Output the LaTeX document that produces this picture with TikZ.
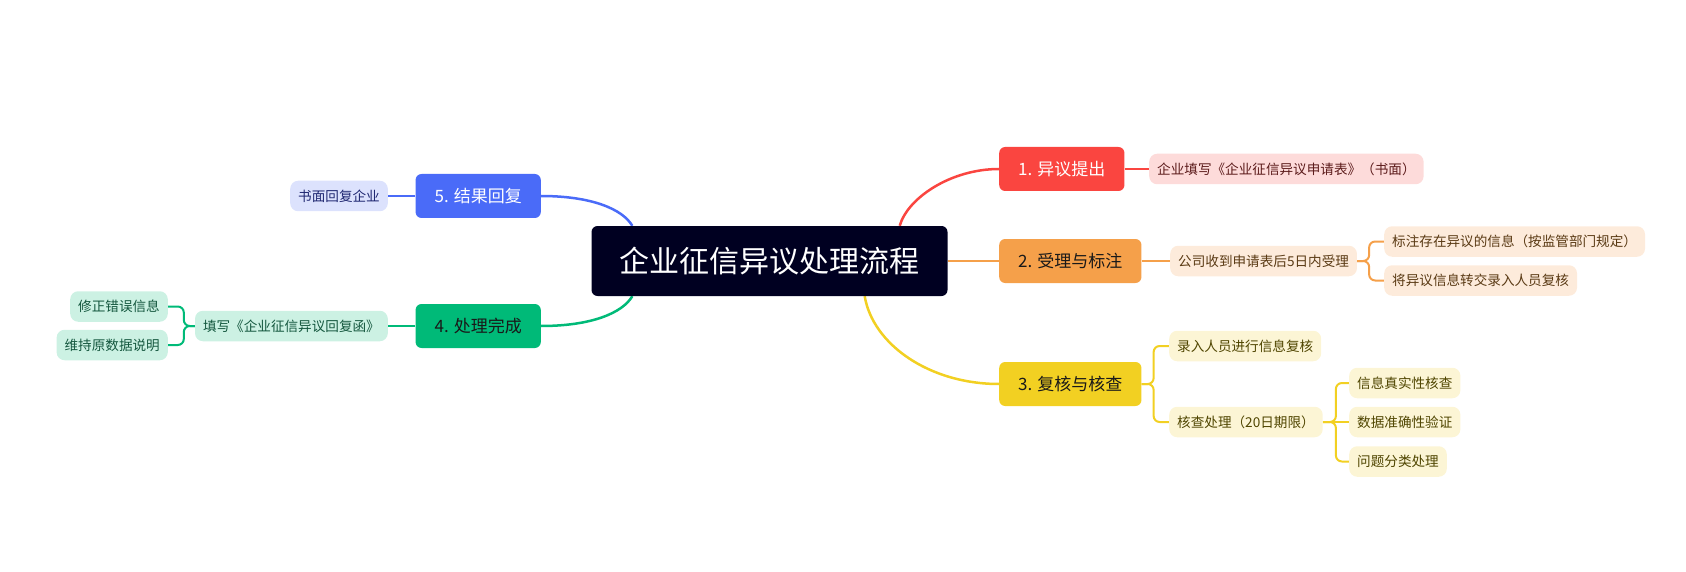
\documentclass[tikz,border=0pt]{standalone}
\usepackage{fontspec}
\setmainfont{Noto Sans CJK SC}
\usetikzlibrary{backgrounds}
\definecolor{rootc}{HTML}{000021}
\definecolor{redA}{HTML}{FA4540}\definecolor{redB}{HTML}{FDDBDA}\definecolor{redT}{HTML}{5C1B1B}
\definecolor{orgA}{HTML}{F5A04A}\definecolor{orgB}{HTML}{FDEBDB}\definecolor{orgT}{HTML}{5A3A14}
\definecolor{yelA}{HTML}{F2D022}\definecolor{yelB}{HTML}{FCF5D5}\definecolor{yelT}{HTML}{4F4500}
\definecolor{grnA}{HTML}{00BA78}\definecolor{grnB}{HTML}{CCF1E3}\definecolor{grnT}{HTML}{14573E}
\definecolor{bluA}{HTML}{4A6BF8}\definecolor{bluB}{HTML}{DCE2FD}\definecolor{bluT}{HTML}{1E2670}
\tikzset{
  rootbox/.style={fill=rootc, text=white, rounded corners=6pt, minimum height=70pt, inner xsep=28pt, font=\fontsize{30}{36}\selectfont},
  stagebox/.style={rounded corners=6pt, minimum height=44pt, inner xsep=19pt, font=\fontsize{17}{20}\selectfont},
  leafbox/.style={rounded corners=8pt, minimum height=30.5pt, inner xsep=8pt, inner ysep=2pt, font=\fontsize{13.6}{16}\selectfont},
  branch/.style={line width=2.5pt},
  twig/.style={line width=2pt, rounded corners=6pt}
}
\begin{document}
\begin{tikzpicture}[x=1pt, y=-1pt]
    \useasboundingbox (0,0) rectangle (1686,572);
    \node[rootbox] (root) at (769.5,261) {企业征信异议处理流程};

    % right side
    \node[stagebox, fill=redA, text=white, anchor=west] (s1) at (999,169) {1. 异议提出};
    \node[stagebox, fill=orgA, text=black!90, anchor=west] (s2) at (999,261) {2. 受理与标注};
    \node[stagebox, fill=yelA, text=black!90, anchor=west] (s3) at (999,384) {3. 复核与核查};

    \node[leafbox, fill=redB, text=redT, anchor=west] (s1a) at (1149,169) {企业填写《企业征信异议申请表》（书面）};
    \node[leafbox, fill=orgB, text=orgT, anchor=west] (s2a) at (1170,261) {公司收到申请表后5日内受理};
    \node[leafbox, fill=orgB, text=orgT, anchor=west] (s2a1) at (1384,241.5) {标注存在异议的信息（按监管部门规定）};
    \node[leafbox, fill=orgB, text=orgT, anchor=west] (s2a2) at (1384,280.5) {将异议信息转交录入人员复核};
    \node[leafbox, fill=yelB, text=yelT, anchor=west] (s3a) at (1169,346) {录入人员进行信息复核};
    \node[leafbox, fill=yelB, text=yelT, anchor=west] (s3b) at (1169,422) {核查处理（20日期限）};
    \node[leafbox, fill=yelB, text=yelT, anchor=west] (s3b1) at (1349,383) {信息真实性核查};
    \node[leafbox, fill=yelB, text=yelT, anchor=west] (s3b2) at (1349,422) {数据准确性验证};
    \node[leafbox, fill=yelB, text=yelT, anchor=west] (s3b3) at (1349,461.5) {问题分类处理};

    % left side
    \node[stagebox, fill=bluA, text=white, anchor=east] (s5) at (541,196) {5. 结果回复};
    \node[stagebox, fill=grnA, text=black!90, anchor=east] (s4) at (541,326) {4. 处理完成};

    \node[leafbox, fill=bluB, text=bluT, anchor=east] (s5a) at (388,196) {书面回复企业};
    \node[leafbox, fill=grnB, text=grnT, anchor=east] (s4a) at (388,326) {填写《企业征信异议回复函》};
    \node[leafbox, fill=grnB, text=grnT, anchor=east] (s4a1) at (168,306.5) {修正错误信息};
    \node[leafbox, fill=grnB, text=grnT, anchor=east] (s4a2) at (168,345) {维持原数据说明};

    \begin{scope}[on background layer]
    \draw[branch, redA] ([xshift=-48pt]root.north east) .. controls +(8,-28) and +(-48,0) .. (s1.west);
    \draw[branch, orgA] (root.east) -- (s2.west);
    \draw[branch, yelA] ([xshift=-83pt]root.south east) .. controls +(8,48) and +(-70,0) .. (s3.west);
    \draw[branch, bluA] ([xshift=41pt]root.north west) .. controls +(-10,-17) and +(50,0) .. (s5.east);
    \draw[branch, grnA] ([xshift=41pt]root.south west) .. controls +(-10,17) and +(50,0) .. (s4.east);

    \draw[twig, redA] (s1.east) -- (s1a.west);
    \draw[twig, orgA] (s2.east) -- (s2a.west);
    \draw[twig, orgA] (s2a.east) -- ++(12,0) |- (s2a1.west);
    \draw[twig, orgA] (s2a.east) -- ++(12,0) |- (s2a2.west);
    \draw[twig, yelA] (s3.east) -- ++(12,0) |- (s3a.west);
    \draw[twig, yelA] (s3.east) -- ++(12,0) |- (s3b.west);
    \draw[twig, yelA] (s3b.east) -- ++(13,0) |- (s3b1.west);
    \draw[twig, yelA] (s3b.east) -- (s3b2.west);
    \draw[twig, yelA] (s3b.east) -- ++(13,0) |- (s3b3.west);
    \draw[twig, bluA] (s5.west) -- (s5a.east);
    \draw[twig, grnA] (s4.west) -- (s4a.east);
    \draw[twig, grnA] (s4a.west) -- ++(-11,0) |- (s4a1.east);
    \draw[twig, grnA] (s4a.west) -- ++(-11,0) |- (s4a2.east);
    \end{scope}
\end{tikzpicture}
\end{document}
